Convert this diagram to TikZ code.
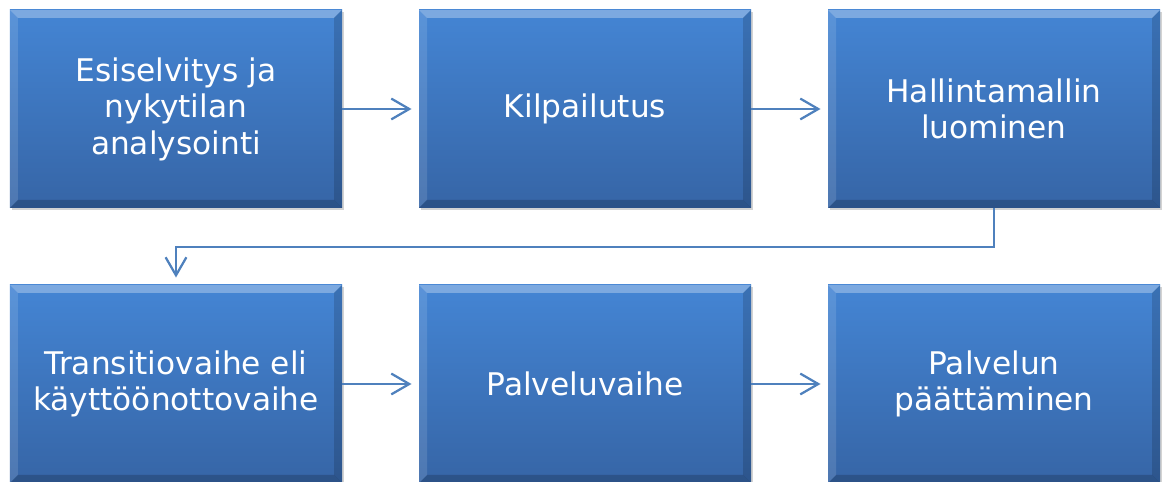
\documentclass[tikz,border=0pt]{standalone}
\usepackage{fontspec}
\setmainfont{DejaVu Sans}
\usetikzlibrary{arrows.meta,shadows}

\definecolor{boxtop}{RGB}{68,133,212}
\definecolor{boxbot}{RGB}{54,101,166}
\definecolor{flowline}{RGB}{79,129,189}

\tikzset{
  phase/.style={rectangle, minimum width=8.3cm, minimum height=4.95cm, inner sep=0pt,
    align=center, text=white, font=\fontsize{22.2}{26}\selectfont,
    top color=boxtop, bottom color=boxbot,
    drop shadow={opacity=0.35, shadow xshift=0.05cm, shadow yshift=-0.06cm},
    path picture={
      \fill[white, opacity=0.3] (path picture bounding box.north west) -- (path picture bounding box.north east)
        -- ([xshift=-0.2cm,yshift=-0.2cm]path picture bounding box.north east)
        -- ([xshift=0.2cm,yshift=-0.2cm]path picture bounding box.north west) -- cycle;
      \fill[white, opacity=0.12] (path picture bounding box.north west) -- (path picture bounding box.south west)
        -- ([xshift=0.2cm,yshift=0.2cm]path picture bounding box.south west)
        -- ([xshift=0.2cm,yshift=-0.2cm]path picture bounding box.north west) -- cycle;
      \fill[black, opacity=0.18] (path picture bounding box.south west) -- (path picture bounding box.south east)
        -- ([xshift=-0.2cm,yshift=0.2cm]path picture bounding box.south east)
        -- ([xshift=0.2cm,yshift=0.2cm]path picture bounding box.south west) -- cycle;
      \fill[black, opacity=0.15] (path picture bounding box.north east) -- (path picture bounding box.south east)
        -- ([xshift=-0.2cm,yshift=0.2cm]path picture bounding box.south east)
        -- ([xshift=-0.2cm,yshift=-0.2cm]path picture bounding box.north east) -- cycle;
    }},
  link/.style={draw=flowline, line width=1.6pt,
    -{Straight Barb[length=0.45cm, width=0.52cm, line width=1.6pt]}, shorten >=0.18cm}
}

\begin{document}
\begin{tikzpicture}

\useasboundingbox (0,0) rectangle (29.2,-12.05);

% first row
\node[phase] (esi) at (4.4,-2.725) {Esiselvitys ja\\nykytilan\\analysointi};
\node[phase] (kil) at (14.625,-2.725) {Kilpailutus};
\node[phase] (hal) at (24.85,-2.725) {Hallintamallin\\luominen};

% second row
\node[phase] (tra) at (4.4,-9.6) {Transitiovaihe eli\\käyttöönottovaihe};
\node[phase] (pal) at (14.625,-9.6) {Palveluvaihe};
\node[phase] (paa) at (24.85,-9.6) {Palvelun\\päättäminen};

\draw[link] (esi.east) -- (kil.west);
\draw[link] (kil.east) -- (hal.west);
\draw[link] (hal.south) -- ++(0,-0.975) -| (tra.north);
\draw[link] (tra.east) -- (pal.west);
\draw[link] (pal.east) -- (paa.west);

\end{tikzpicture}
\end{document}
